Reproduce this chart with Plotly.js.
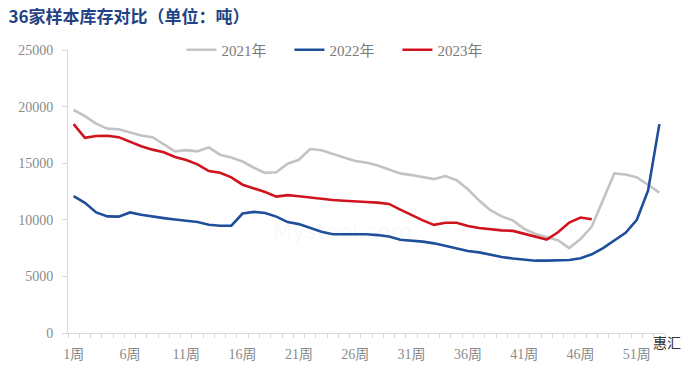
<!DOCTYPE html>
<html>
<head>
<meta charset="utf-8">
<script src="https://cdn.plot.ly/plotly-3.0.1.min.js"></script>
<style>
html,body{margin:0;padding:0;background:#fff;}
#chart{width:698px;height:375px;}
</style>
</head>
<body>
<div id="chart"></div>
<script>
// Week numbers 1..53
const weeks = Array.from({length: 53}, (_, i) => i + 1);
const tickWeeks = [1, 6, 11, 16, 21, 26, 31, 36, 41, 46, 51];
const tickLabels = ["1周","6周","11周","16周","21周","26周","31周","36周","41周","46周","51周"];

const s2021 = [19700,19150,18500,18050,18000,17700,17450,17300,16650,16050,
               16150,16050,16400,15750,15500,15150,14600,14150,14200,14950,
               15300,16250,16150,15800,15500,15200,15050,14800,14450,14100,
               13950,13800,13600,13870,13500,12700,11700,10850,10300,9950,
               9200,8750,8450,8200,7500,8300,9400,11800,14100,14000,
               13750,13100,12400];
const s2022 = [12100,11500,10650,10300,10280,10650,10450,10280,10150,10020,
               9900,9800,9560,9480,9480,10550,10700,10600,10280,9800,
               9620,9250,8950,8720,8720,8720,8720,8650,8520,8240,
               8180,8070,7920,7700,7460,7250,7120,6900,6720,6580,
               6480,6390,6390,6400,6450,6600,6950,7500,8150,8850,
               10000,12600,18450];
const s2023 = [18450,17250,17400,17420,17300,16900,16500,16200,15970,15550,
               15280,14900,14300,14150,13750,13100,12800,12450,12050,12180,
               12080,11950,11850,11750,11680,11600,11570,11520,11400,10900,
               10400,9950,9550,9740,9740,9460,9280,9150,9070,9020,
               8750,8480,8250,8900,9750,10200,10050];

const serif = '"Liberation Serif", "Times New Roman", "Noto Sans CJK SC", serif';

const traces = [
  {x: weeks, y: s2021, name: '2021年', type: 'scatter', mode: 'lines',
   line: {color: '#C3C3C3', width: 2.6}},
  {x: weeks, y: s2022, name: '2022年', type: 'scatter', mode: 'lines',
   line: {color: '#1F4E9B', width: 2.6}},
  {x: weeks.slice(0, s2023.length), y: s2023, name: '2023年', type: 'scatter', mode: 'lines',
   line: {color: '#D0141E', width: 2.6}}
];

const layout = {
  width: 698, height: 375,
  margin: {l: 68, r: 33, t: 50, b: 42},
  paper_bgcolor: '#ffffff', plot_bgcolor: '#ffffff',
  showlegend: true,
  legend: {orientation: 'h', x: 0.19, xanchor: 'left', y: 1.0, yanchor: 'middle',
           font: {family: serif, size: 15, color: '#7a7a7a'},
           bgcolor: 'rgba(0,0,0,0)', itemwidth: 30, entrywidth: 63, tracegroupgap: 0},
  title: {text: '36家样本库存对比（单位：吨）', x: 0.012, xanchor: 'left', y: 0.955, yanchor: 'middle',
          font: {family: '"Noto Sans CJK SC", sans-serif', size: 17, color: '#1F4384', weight: 'bold'}},
  xaxis: {range: [0.5, 53.5], tickvals: tickWeeks, ticktext: tickLabels,
          ticks: '', showgrid: false, zeroline: false,
          showline: true, linecolor: '#D9D9D9', linewidth: 1,
          tickfont: {family: serif, size: 14, color: '#8a8a8a'},
          ticklabelstandoff: 8,
          minor: {tick0: 0.5, dtick: 1, ticks: 'outside', ticklen: 4, tickcolor: '#D9D9D9', showgrid: false}},
  yaxis: {range: [0, 25000], dtick: 5000, tickformat: 'd',
          ticks: 'outside', ticklen: 5, tickcolor: '#D9D9D9',
          showgrid: false, zeroline: false,
          showline: true, linecolor: '#D9D9D9', linewidth: 1,
          tickfont: {family: serif, size: 14, color: '#8a8a8a'},
          ticklabelstandoff: 6},
  annotations: [
    {xref: 'paper', yref: 'paper', x: 0.455, y: 0.615, showarrow: false,
     text: '<span style="color:rgba(208,20,30,0.06)">我的</span><br><span style="color:rgba(31,78,155,0.06)">钢铁</span>',
     font: {family: '"Noto Sans CJK SC"', size: 26, color: 'rgba(31,78,155,0.06)'}},
    {xref: 'paper', yref: 'paper', x: 0.46, y: 0.36, text: 'Mysteel.com', showarrow: false,
     font: {family: '"DejaVu Sans"', size: 22, color: 'rgba(150,150,150,0.07)'}},
    {xref: 'paper', yref: 'paper', x: 1.03, y: -0.075, xanchor: 'right', text: '惠汇', showarrow: false,
     font: {family: '"Noto Sans CJK SC"', size: 14, color: '#333333'}}
  ]
};

Plotly.newPlot('chart', traces, layout, {displayModeBar: false, staticPlot: true});
</script>
</body>
</html>
